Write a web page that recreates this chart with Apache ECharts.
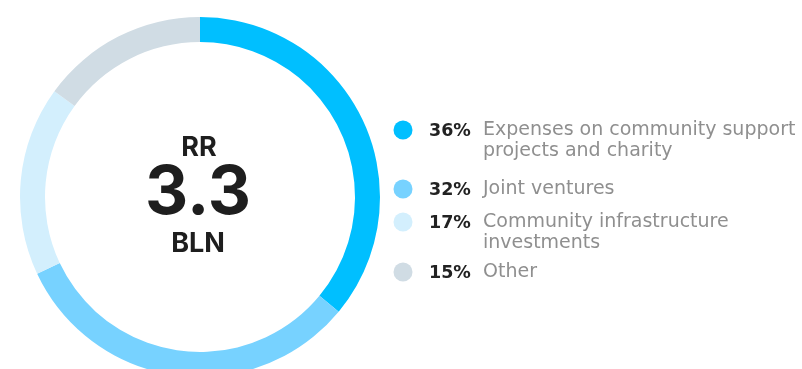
<!DOCTYPE html>
<html>
<head>
<meta charset="utf-8">
<script src="https://cdn.jsdelivr.net/npm/echarts@6/dist/echarts.min.js"></script>
<style>
  html, body { margin: 0; padding: 0; background: #fff; }
  #chart { width: 802px; height: 369px; }
</style>
</head>
<body>
<div id="chart"></div>
<script>
// data
var shares = [36, 32, 17, 15];
var names = [
    'Expenses on community support\nprojects and charity',
    'Joint ventures',
    'Community infrastructure\ninvestments',
    'Other'
];
var colors = ['#00bfff', '#77d2ff', '#d3effd', '#d0dce4'];
var legendY = [130, 189, 222, 272];   // legend row centres (first line)

var chart = echarts.init(document.getElementById('chart'));

// legend drawn as graphic, one row per slice
var legendItems = [];
shares.forEach(function (v, i) {
    legendItems.push({
        type: 'circle',
        shape: { cx: 403, cy: legendY[i], r: 9.5 },
        style: { fill: colors[i] }
    });
    legendItems.push({
        type: 'text',
        x: 429, y: legendY[i] + 1,
        style: {
            text: v + '%',
            fontFamily: 'DejaVu Sans',
            fontWeight: 'bold',
            fontSize: 17.5,
            fill: '#222',
            verticalAlign: 'middle'
        }
    });
    legendItems.push({
        type: 'text',
        x: 483, y: legendY[i] - 10,
        style: {
            text: names[i],
            fontFamily: 'DejaVu Sans',
            fontSize: 19,
            lineHeight: 21,
            fill: '#8f8f8f',
            verticalAlign: 'top'
        }
    });
});

var option = {
    animation: false,
    series: [
        {
            type: 'pie',
            center: [200, 197],
            radius: [155, 180],
            startAngle: 90,
            clockwise: true,
            silent: true,
            label: { show: false },
            labelLine: { show: false },
            data: shares.map(function (v, i) {
                return { value: v, name: names[i], itemStyle: { color: colors[i] } };
            })
        }
    ],
    graphic: [
        {
            type: 'text', x: 199, y: 148,
            style: { text: 'RR', fontFamily: 'Inter', fontWeight: 'bold', fontSize: 27,
                     fill: '#1e1e1e', align: 'center', verticalAlign: 'middle' }
        },
        {
            type: 'text', x: 198, y: 194,
            style: { text: '3.3', fontFamily: 'Inter', fontWeight: 'bold', fontSize: 67,
                     fill: '#1e1e1e', align: 'center', verticalAlign: 'middle' }
        },
        {
            type: 'text', x: 198, y: 244,
            style: { text: 'BLN', fontFamily: 'Inter', fontWeight: 'bold', fontSize: 27,
                     fill: '#1e1e1e', align: 'center', verticalAlign: 'middle' }
        }
    ].concat(legendItems)
};

chart.setOption(option);
</script>
</body>
</html>
